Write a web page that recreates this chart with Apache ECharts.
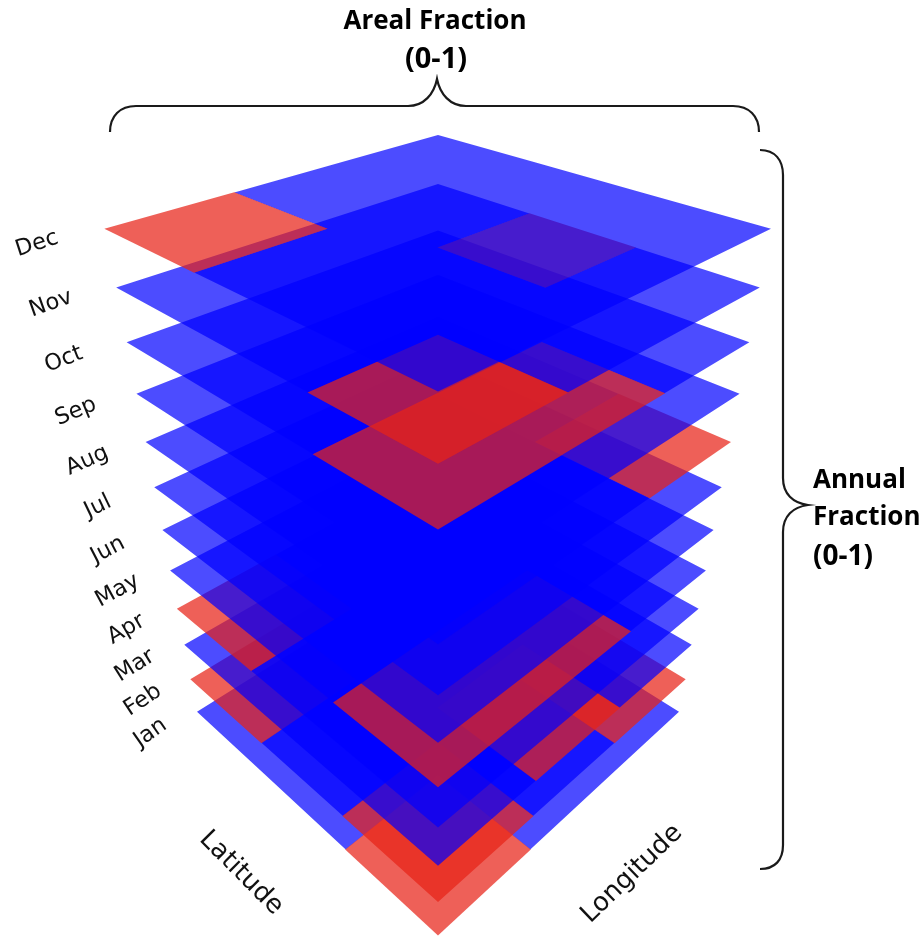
<!DOCTYPE html>
<html>
<head>
<meta charset="utf-8">
<style>html,body{margin:0;padding:0;background:#fff}#c{width:923px;height:940px}</style>
<script src="https://cdn.jsdelivr.net/npm/echarts@6/dist/echarts.min.js"></script>
</head>
<body>
<div id="c"></div>
<script>
// Month labels, bottom layer first
const months = ['Jan','Feb','Mar','Apr','May','Jun','Jul','Aug','Sep','Oct','Nov','Dec'];
// Each month: rows = latitude bands (front to left), columns = longitude bands (front to right)
// 1 = red cell, 0 = blue cell
const jan = [[1,0,0],[0,0,0],[0,0,0]];
const feb = [[1,0,1],[0,0,0],[1,0,0]];
const mar = [[0,1,0],[0,0,0],[0,0,0]];
const apr = [[0,0,0],[0,0,0],[1,0,0]];
const may = [[1,1,0],[0,0,0],[0,0,0]];
const jun = [[0,0,0],[0,0,0],[0,0,0]];
const jul = [[0,0,0],[0,0,0],[0,0,0]];
const aug = [[0,0,1],[0,0,0],[0,0,0]];
const sep = [[0,0,0],[0,0,0],[0,0,0]];
const oct = [[1,1,0],[0,0,0],[0,0,0]];
const nov = [[1,0,0],[0,0,1],[0,0,0]];
const dec = [[0,0,0],[0,0,0],[1,0,0]];
const layers = [jan,feb,mar,apr,may,jun,jul,aug,sep,oct,nov,dec];

// Perspective camera fitted to the picture
const CAM = {cx:438, horizon:1977, d0:1/241, dStep:0.0001042, tilt:0.000805, lift:5.25, pitch:1.765};
function project(lon, lat, m){
  const s = (lon-lat)/3, t = (lon+lat)/3-1;
  const den = CAM.d0 - m*CAM.dStep + t*CAM.tilt;
  return [CAM.cx + s/den, CAM.horizon - (CAM.lift + t*CAM.pitch)/den];
}
const BLUE='rgba(0,0,255,0.7)', RED='rgba(232,34,24,0.72)';

function renderLayer(params, api){
  const m = api.value(0), v = api.value(1), grid = layers[m];
  const e = v ? 0.003 : 0; // red cells overlap their blue neighbours by a hair, closing the seam
  let d = '';
  for(let lat=0; lat<3; lat++) for(let lon=0; lon<3; lon++){
    if(grid[lat][lon]!==v) continue;
    const q = [[lon-e,lat-e],[lon+1+e,lat-e],[lon+1+e,lat+1+e],[lon-e,lat+1+e]]
      .map(c=>api.coord(project(c[0],c[1],m)));
    d += 'M'+q.map(p=>p[0].toFixed(2)+' '+p[1].toFixed(2)).join('L')+'Z';
  }
  if(!d) return null;
  return {type:'path', shape:{pathData:d}, style:{fill: v? RED:BLUE, stroke:null}};
}
function renderMonth(params, api){
  const m = api.value(0);
  const p = api.coord(project(-0.417,3.117,m));
  return {type:'text', x:p[0]+2, y:p[1]+3, rotation:(35-m*1.55)*Math.PI/180,
    style:{text:months[m], fill:'#111', font:'22.5px "DejaVu Sans"', align:'center', verticalAlign:'middle'}};
}
const braces = [
  'M110 132C110 116 120 106 136 106L408 106C424 106 434 94 437 79C440 94 450 106 466 106L733 106C749 106 759 116 759 132',
  'M760 150C775 150 783 160 783 175L783 478C783 494 793 503 808 505C793 507 783 516 783 532L783 845C783 860 775 869 760 869'
];
function renderBrace(params, api){
  return {type:'path', shape:{pathData:braces[api.value(0)]}, style:{stroke:'#1a1a1a', lineWidth:2.2, fill:null}};
}
const layerData = [];
layers.forEach((g,m)=>{ layerData.push([m,0]); layerData.push([m,1]); });

const chart = echarts.init(document.getElementById('c'), null, {renderer:'canvas'});
const common = {type:'custom',coordinateSystem:'cartesian2d',clip:false,silent:true,encode:{x:0,y:1}};
chart.setOption({
  animation:false,
  backgroundColor:'#fff',
  grid:{left:0,right:0,top:0,bottom:0},
  xAxis:{type:'value',min:0,max:923,show:false},
  yAxis:{type:'value',min:0,max:940,inverse:true,show:false},
  series:[
    Object.assign({},common,{renderItem:renderLayer,data:layerData}),
    Object.assign({},common,{renderItem:renderMonth,data:months.map((_,m)=>[m,0])}),
    Object.assign({},common,{renderItem:renderBrace,data:braces.map((_,i)=>[i,0])})
  ],
  graphic:[
    {type:'text',x:435,y:22,style:{text:'Areal Fraction',font:'bold 26px "Open Sans"',fill:'#000',align:'center',verticalAlign:'middle'}},
    {type:'text',x:436,y:60,style:{text:'(0-1)',font:'bold 29px "Open Sans"',fill:'#000',align:'center',verticalAlign:'middle'}},
    {type:'text',x:813,y:481,style:{text:'Annual',font:'bold 26px "Open Sans"',fill:'#000',align:'left',verticalAlign:'middle'}},
    {type:'text',x:813,y:518,style:{text:'Fraction',font:'bold 26px "Open Sans"',fill:'#000',align:'left',verticalAlign:'middle'}},
    {type:'text',x:813,y:557,style:{text:'(0-1)',font:'bold 28px "Open Sans"',fill:'#000',align:'left',verticalAlign:'middle'}},
    {type:'text',x:241,y:873,rotation:-45*Math.PI/180,style:{text:'Latitude',font:'26px "DejaVu Sans"',fill:'#111',align:'center',verticalAlign:'middle'}},
    {type:'text',x:632,y:874,rotation:44*Math.PI/180,style:{text:'Longitude',font:'26px "DejaVu Sans"',fill:'#111',align:'center',verticalAlign:'middle'}}
  ]
});
</script>
</body>
</html>
